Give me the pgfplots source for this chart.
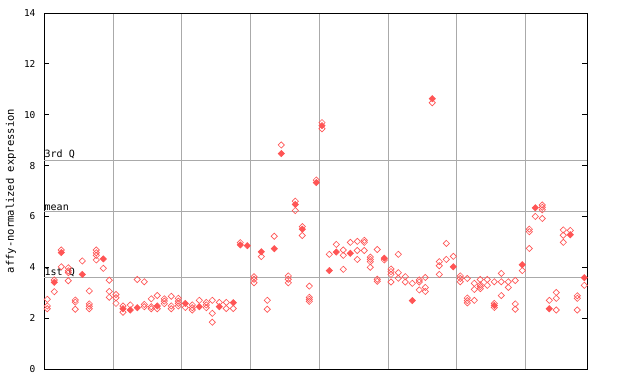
\documentclass[border=0pt]{standalone}
\usepackage{pgfplots}
\pgfplotsset{compat=1.18}
\usepackage{fontspec}
\setmainfont{DejaVu Sans Mono}
\definecolor{pt}{RGB}{255,85,85}
\definecolor{gl}{RGB}{170,170,170}
\begin{document}
\begin{tikzpicture}
\path[use as bounding box] (0,0) rectangle (640pt,384pt);
\begin{axis}[
  at={(44pt,15pt)}, anchor=south west,
  scale only axis, width=543pt, height=356pt,
  xmin=44, xmax=587, ymin=0, ymax=14,
  xtick={113,181.7,250.5,319.3,388,456.7,525.4},
  xticklabels={},
  major x tick style={draw=none},
  xmajorgrids,
  grid style={gl, line width=0.8pt},
  ytick={0,2,4,6,8,10,12,14},
  ytick pos=both,
  tick align=inside,
  major tick length=5pt,
  /pgf/number format/assume math mode=true,
  yticklabel style={font=\fontsize{9.5}{9.5}\selectfont, xshift=-5pt},
  axis line style={black, line width=0.8pt},
  every tick/.style={black, line width=0.8pt},
  clip=false,
]
\addplot[gl, line width=0.8pt, forget plot] coordinates {(44,8.22) (587,8.22)};
\addplot[gl, line width=0.8pt, forget plot] coordinates {(44,6.21) (587,6.21)};
\addplot[gl, line width=0.8pt, forget plot] coordinates {(44,3.6) (587,3.6)};
\node[anchor=south west, inner sep=0.5pt, font=\fontsize{10}{10}\selectfont] at (axis cs:44,8.22) {3rd Q};
\node[anchor=south west, inner sep=0.5pt, font=\fontsize{10}{10}\selectfont] at (axis cs:44,6.21) {mean};
\node[anchor=south west, inner sep=0.5pt, font=\fontsize{10}{10}\selectfont] at (axis cs:44,3.6) {1st Q};
% open points
\addplot[only marks, mark=square, mark size=2.2pt, pt, line width=0.65pt,
  mark options={rotate=45}] coordinates {
(47.3,2.74) (47.3,2.48) (47.3,2.37)
(54.3,3.5) (54.3,3.04)
(61.3,4.68) (61.3,4.02)
(68.3,3.98) (68.3,3.86) (68.3,3.79) (68.3,3.47)
(75.3,2.71) (75.3,2.63) (75.3,2.35)
(82.3,4.25)
(89.3,3.07) (89.3,2.56) (89.3,2.47) (89.3,2.37)
(96.3,4.68) (96.3,4.57) (96.3,4.47) (96.3,4.29)
(103.3,3.96)
(109.3,3.49) (109.3,3.05) (109.3,2.82)
(116,2.93) (116,2.80) (116,2.58)
(123,2.48) (123,2.23)
(130.3,2.52)
(137.3,3.52)
(144.3,3.43) (144.3,2.54) (144.3,2.45)
(151.3,2.76) (151.3,2.45) (151.3,2.37)
(157.3,2.89) (157.3,2.37)
(164.3,2.76) (164.3,2.67) (164.3,2.57)
(171.3,2.86) (171.3,2.48) (171.3,2.37)
(178.3,2.78) (178.3,2.67) (178.3,2.58) (178.3,2.48)
(185.3,2.42)
(192.3,2.52) (192.3,2.41) (192.3,2.32)
(199.3,2.70)
(206.3,2.62) (206.3,2.52) (206.3,2.41)
(212.3,2.70) (212.3,2.19) (212.3,1.84)
(219.3,2.62)
(226.3,2.62) (226.3,2.38)
(233.3,2.38)
(240.3,4.97)
(254,3.63) (254,3.53) (254,3.39)
(261.3,4.42)
(267.3,2.70) (267.3,2.35)
(274.3,5.22)
(281.3,8.81)
(288.3,3.66) (288.3,3.53) (288.3,3.39)
(295.3,6.6) (295.3,6.23)
(302.3,5.6) (302.3,5.25)
(309.3,3.26) (309.3,2.82) (309.3,2.74) (309.3,2.66)
(316.3,7.43)
(322,9.69) (322,9.45)
(329.3,4.51)
(336.3,4.90)
(343.3,4.68) (343.3,4.47) (343.3,3.92)
(350.3,4.98)
(357.3,5.02) (357.3,4.66) (357.3,4.31)
(364.3,5.06) (364.3,4.98) (364.3,4.66)
(370.3,4.40) (370.3,4.31) (370.3,4.22) (370.3,4.0)
(377.3,4.70) (377.3,3.53) (377.3,3.45)
(384.3,4.29)
(391,3.93) (391,3.83) (391,3.72) (391,3.42)
(398.3,4.51) (398.3,3.79) (398.3,3.57)
(405.3,3.63) (405.3,3.42)
(412.3,3.37)
(419.3,3.5) (419.3,3.42) (419.3,3.11)
(425.3,3.60) (425.3,3.21) (425.3,3.05)
(432.3,10.47)
(439.3,4.22) (439.3,4.06) (439.3,3.72)
(446.3,4.94) (446.3,4.31)
(453.3,4.43)
(460.3,3.66) (460.3,3.56) (460.3,3.43)
(467.3,3.56) (467.3,2.79) (467.3,2.69) (467.3,2.60)
(474.3,3.37) (474.3,3.13) (474.3,2.70)
(480.3,3.52) (480.3,3.31) (480.3,3.24) (480.3,3.16)
(487.3,3.52) (487.3,3.29)
(494.3,3.43) (494.3,2.58) (494.3,2.42)
(501.3,3.76) (501.3,3.43) (501.3,2.89)
(508.3,3.43) (508.3,3.21)
(515.3,3.48) (515.3,2.56) (515.3,2.35)
(522.3,3.87)
(529.3,5.5) (529.3,5.4) (529.3,4.74)
(535.3,6.0)
(542.3,6.45) (542.3,6.36) (542.3,6.26) (542.3,5.92)
(549.3,2.70)
(556.3,3.01) (556.3,2.78) (556.3,2.32)
(563.3,5.47) (563.3,5.26) (563.3,4.98)
(570.3,5.45)
(577.3,2.88) (577.3,2.78) (577.3,2.32)
(584.3,3.29)
};
% filled points
\addplot[only marks, mark=square*, mark size=2.2pt, pt, line width=0.65pt,
  mark options={rotate=45, fill=pt}] coordinates {
(54.3,3.41) (61.3,4.58) (82.3,3.72) (103.3,4.33)
(123,2.37) (130.3,2.32) (137.3,2.41) (157.3,2.48)
(185.3,2.58) (199.3,2.45) (219.3,2.45) (233.3,2.61)
(240.3,4.88) (247.3,4.85)
(261.3,4.61) (274.3,4.73) (281.3,8.47) (295.3,6.47) (302.3,5.5) (316.3,7.33)
(322,9.57) (329.3,3.87) (336.3,4.60) (350.3,4.55) (384.3,4.36)
(412.3,2.69) (432.3,10.63) (453.3,4.02)
(494.3,2.50) (522.3,4.10)
(535.3,6.34) (549.3,2.37) (570.3,5.28) (584.3,3.59)
};
\end{axis}
\node[rotate=90, font=\fontsize{10.5}{10.5}\selectfont] at (11pt,193pt) {affy-normalized expression};
\end{tikzpicture}
\end{document}
